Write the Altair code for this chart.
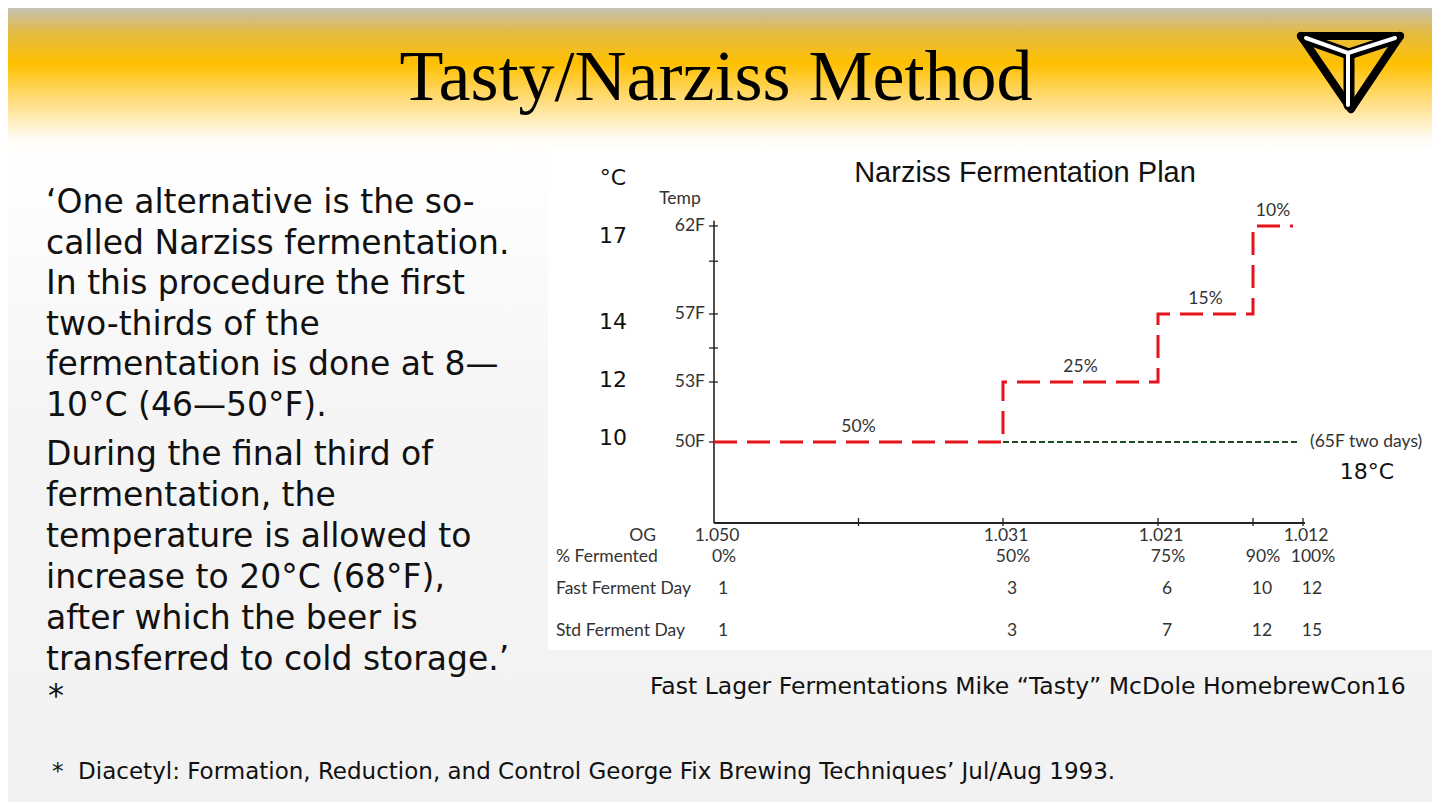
import altair as alt
import pandas as pd

# ---------------- data ----------------
pct_points = [0, 50, 75, 90, 100]
og_values = ["1.050", "1.031", "1.021", "", "1.012"]
pct_values = ["0%", "50%", "75%", "90%", "100%"]
fast_days = ["1", "3", "6", "10", "12"]
std_days = ["1", "3", "7", "12", "15"]

step_pct = [0, 50, 75, 90, 98]
step_temp_f = [50, 53, 57, 62, 62]
step_share = ["50%", "25%", "15%", "10%"]

rest_pct = [50, 99]
rest_temp_f = [50, 50]

temp_ticks_f = [50, 53, 55, 57, 60, 62]
temp_tick_labels = ["50F", "53F", "", "57F", "", "62F"]
pct_ticks = [25, 50, 75, 90, 100]
celsius_labels = ["17", "14", "12", "10"]

para1 = ["\u2018One alternative is the so-", "called Narziss fermentation.",
         "In this procedure the first", "two-thirds of the",
         "fermentation is done at 8\u2014", "10\u00b0C (46\u201450\u00b0F)."]
para2 = ["During the final third of", "fermentation, the",
         "temperature is allowed to", "increase to 20\u00b0C (68\u00b0F),",
         "after which the beer is", "transferred to cold storage.\u2019"]

# ---------------- layout ----------------
W, H = 1424, 794
SLIDE_FONT = "DejaVu Sans"
CHART_FONT = "Lato"
INK = "#333333"
CS = 17.5  # chart text size

XS = alt.Scale(domain=[0, 50, 75, 90, 100], range=[706, 995, 1150, 1245, 1295],
               zero=False, nice=False)
YS = alt.Scale(domain=[45.5, 50, 53, 57, 62], range=[515, 434, 374, 306, 218],
               zero=False, nice=False)


def X(f):
    return alt.X(f"{f}:Q", scale=XS, axis=None)


def Y(f):
    return alt.Y(f"{f}:Q", scale=YS, axis=None)


one = pd.DataFrame({"k": [0]})


def label(text, x, y, size, font=SLIDE_FONT, align="left", baseline="alphabetic",
          color="#111111", line_height=None):
    kw = dict(text=text, font=font, fontSize=size, align=align, baseline=baseline,
              color=color)
    if line_height is not None:
        kw["lineHeight"] = line_height
    return alt.Chart(one).mark_text(**kw).encode(x=alt.value(x), y=alt.value(y))


def seg(x1, y1, x2, y2, color, width):
    return alt.Chart(one).mark_rule(color=color, strokeWidth=width, strokeCap="round").encode(
        x=alt.value(x1), y=alt.value(y1), x2=alt.value(x2), y2=alt.value(y2))


# background gradient
bg = alt.Chart(one).mark_rect(
    color=alt.Gradient(
        gradient="linear",
        stops=[
            alt.GradientStop(offset=0.0, color="#c4c1b6"),
            alt.GradientStop(offset=0.03, color="#e3bb45"),
            alt.GradientStop(offset=0.07, color="#ffc000"),
            alt.GradientStop(offset=0.115, color="#ffdc7a"),
            alt.GradientStop(offset=0.165, color="#fffcf5"),
            alt.GradientStop(offset=0.19, color="#ffffff"),
            alt.GradientStop(offset=0.5, color="#f5f5f5"),
            alt.GradientStop(offset=1.0, color="#f2f2f2"),
        ],
        x1=0, x2=0, y1=0, y2=1,
    )
).encode(x=alt.value(0), x2=alt.value(W), y=alt.value(0), y2=alt.value(H))

panel = alt.Chart(one).mark_rect(color="#ffffff").encode(
    x=alt.value(540), x2=alt.value(W), y=alt.value(142), y2=alt.value(642))

# logo
logo = [
    seg(1293, 28, 1392, 28, "#000000", 8),
    seg(1392, 28, 1343, 101, "#000000", 8),
    seg(1343, 101, 1293, 28, "#000000", 8),
    seg(1296, 30, 1341, 46, "#000000", 11),
    seg(1389, 30, 1341, 46, "#000000", 11),
    seg(1341, 46, 1341, 97, "#000000", 11),
    seg(1298, 30, 1340, 45, "#ffffff", 4),
    seg(1387, 30, 1340, 45, "#ffffff", 4),
    seg(1340, 45, 1340, 97, "#ffffff", 4),
]

title = label("Tasty/Narziss Method", 708, 92, 72, font="Liberation Serif",
              align="center", color="#000000")

p1 = label(para1, 38, 205, 33, line_height=40.6)
p2 = label(para2, 38, 457, 33, line_height=41)
star = label("*", 40, 698, 32)
caption = label("Fast Lager Fermentations Mike \u201cTasty\u201d McDole HomebrewCon16",
                642, 686, 23.5)
footnote = label("*\u00a0 Diacetyl: Formation, Reduction, and Control George Fix Brewing "
                 "Techniques\u2019 Jul/Aug 1993.", 44, 771, 23)

# chart texts
chart_title = label("Narziss Fermentation Plan", 1017, 165, 29, font="Liberation Sans",
                    align="center", baseline="middle", color="#111111")
deg_c = label("\u00b0C", 605, 170, 22, align="center", baseline="middle")
temp_title = label("Temp", 672, 191, CS, font=CHART_FONT, align="center",
                   baseline="middle", color=INK)
c18 = label("18\u00b0C", 1359, 464, 22, align="center", baseline="middle")
cel = [label(t, 605, yy, 22, align="center", baseline="middle")
       for t, yy in zip(celsius_labels, [228, 314, 372, 430])]

# axes
yaxis = alt.Chart(pd.DataFrame({"x": [0], "y": [45.5], "y2": [62.3]})).mark_rule(
    color="#222222", strokeWidth=1.6).encode(x=X("x"), y=Y("y"), y2="y2:Q")
xaxis = alt.Chart(pd.DataFrame({"x": [0], "x2": [100.4], "y": [45.5]})).mark_rule(
    color="#222222", strokeWidth=2).encode(x=X("x"), x2="x2:Q", y=Y("y"))

ytick_df = pd.DataFrame({"x0": [0] * len(temp_ticks_f), "t": temp_ticks_f,
                         "lab": temp_tick_labels})
yticks = alt.Chart(ytick_df).mark_rule(color="#222222", strokeWidth=1.3,
                                        xOffset=-5, x2Offset=4).encode(
    x=X("x0"), x2="x0:Q", y=Y("t"))
ylabels = alt.Chart(ytick_df).mark_text(font=CHART_FONT, fontSize=CS, color=INK,
                                        align="right", baseline="middle", dx=-9).encode(
    x=X("x0"), y=Y("t"), text="lab:N")

xtick_df = pd.DataFrame({"p": pct_ticks, "b": [45.5] * len(pct_ticks)})
xticks = alt.Chart(xtick_df).mark_rule(color="#222222", strokeWidth=1.3,
                                       yOffset=-5, y2Offset=3).encode(
    x=X("p"), y=Y("b"), y2="b:Q")

# table rows under the axis
rows = []
for vals, ypix, dx in [(og_values, 528, 3), (pct_values, 549, 10),
                       (fast_days, 581, 9), (std_days, 623, 9)]:
    df = pd.DataFrame({"p": pct_points, "lab": vals})
    rows.append(alt.Chart(df).mark_text(font=CHART_FONT, fontSize=CS, color=INK,
                                        align="center", baseline="middle", dx=dx).encode(
        x=X("p"), y=alt.value(ypix), text="lab:N"))

row_titles = [
    label("OG", 648, 528, CS, font=CHART_FONT, align="right", baseline="middle", color=INK),
    label("% Fermented", 548, 549, CS, font=CHART_FONT, baseline="middle", color=INK),
    label("Fast Ferment Day", 548, 581, CS, font=CHART_FONT, baseline="middle", color=INK),
    label("Std Ferment Day", 548, 623, CS, font=CHART_FONT, baseline="middle", color=INK),
]

# data lines
steps = pd.DataFrame({"pct": step_pct, "temp": step_temp_f})
red = alt.Chart(steps).mark_line(color="#e8141c", strokeWidth=3, strokeDash=[23, 10],
                                 interpolate="step-after").encode(
    x=X("pct"), y=Y("temp"))

share_df = pd.DataFrame({
    "mid": [(a + b) / 2 for a, b in zip(step_pct[:-1], step_pct[1:])],
    "temp": step_temp_f[:-1],
    "lab": step_share,
})
shares = alt.Chart(share_df).mark_text(font=CHART_FONT, fontSize=CS, color=INK,
                                       baseline="middle", dy=-15).encode(
    x=X("mid"), y=Y("temp"), text="lab:N")

rest = alt.Chart(pd.DataFrame({"pct": rest_pct, "temp": rest_temp_f})).mark_line(
    color="#1f4d1f", strokeWidth=2, strokeDash=[6, 3]).encode(x=X("pct"), y=Y("temp"))
rest_lab = alt.Chart(pd.DataFrame({"pct": [rest_pct[-1]], "temp": [rest_temp_f[-1]]})).mark_text(
    text="(65F two days)", font=CHART_FONT, fontSize=CS, color=INK, align="left",
    baseline="middle", dx=12).encode(x=X("pct"), y=Y("temp"))

layers = [bg, panel] + logo + [title, p1, p2, star, caption, footnote,
                               chart_title, deg_c, temp_title, c18] + cel + [
    yaxis, xaxis, yticks, ylabels, xticks] + rows + row_titles + [
    rest, red, shares, rest_lab]

chart = alt.layer(*layers).resolve_scale(x="independent", y="independent").properties(
    width=W, height=H, padding=0, autosize=alt.AutoSizeParams(type="none"),
    background="#f2f2f2",
).configure_view(stroke=None)

chart.save("out.html", embed_options={"renderer": "svg", "actions": False})
